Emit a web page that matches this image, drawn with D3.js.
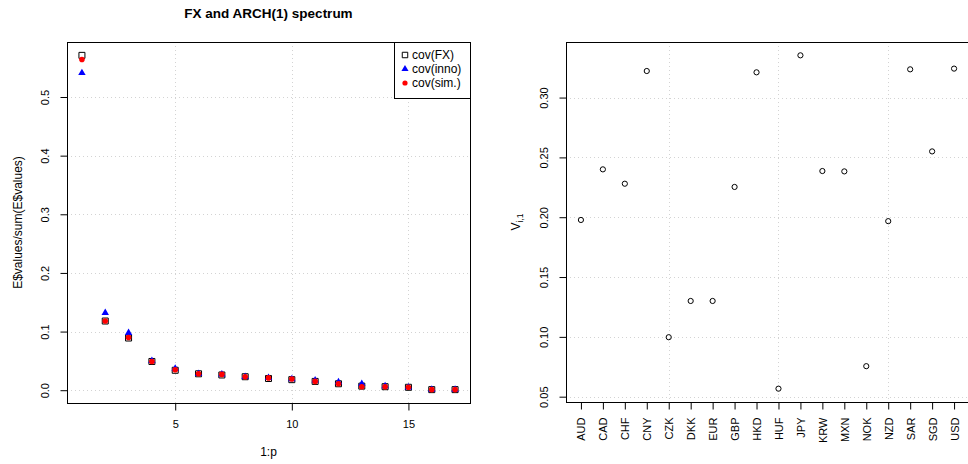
<!DOCTYPE html>
<html>
<head>
<meta charset="utf-8">
<script src="https://cdn.jsdelivr.net/npm/d3@7/dist/d3.min.js"></script>
<style>
  html, body { margin: 0; padding: 0; background: #fff; }
  svg { display: block; font-family: "Liberation Sans", Arial, Helvetica, sans-serif; }
</style>
</head>
<body>
<svg id="chart" width="968" height="464"></svg>
<script>
// Left panel: share of each eigenvalue in the total spectrum
const factorIndex = [1, 2, 3, 4, 5, 6, 7, 8, 9, 10, 11, 12, 13, 14, 15, 16, 17];
const covFX   = [0.571, 0.118, 0.089, 0.049, 0.034, 0.028, 0.026, 0.023, 0.020, 0.018, 0.015, 0.011, 0.007, 0.006, 0.005, 0.001, 0.001];
const covInno = [0.541, 0.132, 0.098, 0.050, 0.037, 0.028, 0.027, 0.023, 0.021, 0.019, 0.017, 0.014, 0.011, 0.007, 0.005, 0.001, 0.001];
const covSim  = [0.564, 0.118, 0.090, 0.049, 0.035, 0.028, 0.027, 0.023, 0.021, 0.019, 0.015, 0.011, 0.006, 0.006, 0.005, 0.001, 0.001];
const leftXTicks = [5, 10, 15];
const leftYTicks = [0.0, 0.1, 0.2, 0.3, 0.4, 0.5];
const legendLabels = ["cov(FX)", "cov(inno)", "cov(sim.)"];

// Right panel: first eigenvector loadings per currency
const currencies = ["AUD", "CAD", "CHF", "CNY", "CZK", "DKK", "EUR", "GBP", "HKD",
                    "HUF", "JPY", "KRW", "MXN", "NOK", "NZD", "SAR", "SGD", "USD"];
const loadings = [0.1977, 0.2400, 0.2280, 0.3222, 0.0997, 0.1300, 0.1300, 0.2253, 0.3211,
                  0.0567, 0.3353, 0.2386, 0.2383, 0.0755, 0.1967, 0.3236, 0.2550, 0.3242];
const rightYTicks = [0.05, 0.10, 0.15, 0.20, 0.25, 0.30];
const rightGridX = [5, 10, 15];

const svg = d3.select("#chart");
const tickFont = 11, labelFont = 12;

// R-style axis range: data extent widened by 4% on each side
function padded(ext) {
  const d = (ext[1] - ext[0]) * 0.04;
  return [ext[0] - d, ext[1] + d];
}

function drawGrid(g, x, y, xs, ys, box) {
  const grid = g.append("g").attr("stroke", "#d3d3d3").attr("stroke-dasharray", "1,3").attr("stroke-width", 1);
  grid.selectAll("line.v").data(xs).join("line").attr("class", "v")
    .attr("x1", d => Math.round(x(d)) + 0.5).attr("x2", d => Math.round(x(d)) + 0.5)
    .attr("y1", box.top).attr("y2", box.bottom);
  grid.selectAll("line.h").data(ys).join("line").attr("class", "h")
    .attr("y1", d => Math.round(y(d)) + 0.5).attr("y2", d => Math.round(y(d)) + 0.5)
    .attr("x1", box.left).attr("x2", box.right);
}

function drawBox(g, box) {
  g.append("rect")
    .attr("x", box.left + 0.5).attr("y", box.top + 0.5)
    .attr("width", box.right - box.left).attr("height", box.bottom - box.top)
    .attr("fill", "none").attr("stroke", "#000").attr("stroke-width", 1);
}

function styleAxis(sel) {
  sel.select(".domain").remove();
  sel.selectAll(".tick line").attr("stroke", "#000");
  sel.selectAll(".tick text").attr("fill", "#000").attr("font-size", tickFont);
}

// ---------- Left panel ----------
const L = { left: 67, right: 470, top: 42, bottom: 403 };
const xL = d3.scaleLinear().domain(padded(d3.extent(factorIndex))).range([L.left, L.right]);
const allL = covFX.concat(covInno, covSim);
const yL = d3.scaleLinear().domain(padded(d3.extent(allL))).range([L.bottom, L.top]);

const gL = svg.append("g");
drawGrid(gL, xL, yL, leftXTicks, leftYTicks, L);

const axBL = gL.append("g").attr("transform", `translate(0,${L.bottom + 0.5})`)
  .call(d3.axisBottom(xL).tickValues(leftXTicks).tickSize(7).tickPadding(10).tickFormat(d3.format("d")));
styleAxis(axBL);

const axLL = gL.append("g").attr("transform", `translate(${L.left + 0.5},0)`)
  .call(d3.axisLeft(yL).tickValues(leftYTicks).tickSize(7).tickFormat(d3.format(".1f")));
styleAxis(axLL);
axLL.selectAll(".tick text")
  .attr("x", null).attr("dy", null).attr("text-anchor", "middle")
  .attr("transform", "translate(-19,0) rotate(-90)");

drawBox(gL, L);

// points: FX squares, innovation triangles, simulated circles on top
const pts = gL.append("g");
pts.selectAll("path.fx").data(factorIndex).join("path").attr("class", "fx")
  .attr("d", d3.symbol(d3.symbolSquare, 36))
  .attr("transform", (d, i) => `translate(${xL(d)},${yL(covFX[i])})`)
  .attr("fill", "none").attr("stroke", "#000").attr("stroke-width", 1);
pts.selectAll("path.inno").data(factorIndex).join("path").attr("class", "inno")
  .attr("d", d3.symbol(d3.symbolTriangle, 24))
  .attr("transform", (d, i) => `translate(${xL(d)},${yL(covInno[i])})`)
  .attr("fill", "#0000ff");
pts.selectAll("circle.sim").data(factorIndex).join("circle").attr("class", "sim")
  .attr("cx", d => xL(d)).attr("cy", (d, i) => yL(covSim[i])).attr("r", 2.8)
  .attr("fill", "#ff0000");

// axis titles and main title
gL.append("text").attr("x", (L.left + L.right) / 2).attr("y", 456)
  .attr("text-anchor", "middle").attr("font-size", labelFont).text("1:p");
gL.append("text").attr("text-anchor", "middle").attr("font-size", labelFont)
  .attr("transform", `translate(22,${(L.top + L.bottom) / 2}) rotate(-90)`)
  .text("E$values/sum(E$values)");
gL.append("text").attr("x", (L.left + L.right) / 2).attr("y", 18)
  .attr("text-anchor", "middle").attr("font-size", 13.5).attr("font-weight", "bold")
  .text("FX and ARCH(1) spectrum");

// legend in top-right corner
const lg = gL.append("g");
const lgBox = { left: 394, top: 42, width: 76, height: 56 };
lg.append("rect").attr("x", lgBox.left + 0.5).attr("y", lgBox.top + 0.5)
  .attr("width", lgBox.width).attr("height", lgBox.height)
  .attr("fill", "#fff").attr("stroke", "#000");
const lgY = d3.scalePoint().domain(legendLabels).range([55, 83]);
lg.append("path").attr("d", d3.symbol(d3.symbolSquare, 30))
  .attr("transform", `translate(405,${lgY(legendLabels[0])})`)
  .attr("fill", "none").attr("stroke", "#000");
lg.append("path").attr("d", d3.symbol(d3.symbolTriangle, 22))
  .attr("transform", `translate(405,${lgY(legendLabels[1])})`).attr("fill", "#0000ff");
lg.append("circle").attr("cx", 405).attr("cy", lgY(legendLabels[2])).attr("r", 2.6).attr("fill", "#ff0000");
lg.selectAll("text").data(legendLabels).join("text")
  .attr("x", 412).attr("y", d => lgY(d)).attr("dy", "0.35em")
  .attr("font-size", 12).text(d => d);

// ---------- Right panel ----------
const R = { left: 566, right: 969, top: 42, bottom: 402 };
const idx = currencies.map((c, i) => i + 1);
const xR = d3.scaleLinear().domain(padded([1, currencies.length])).range([R.left, R.right]);
const yR = d3.scaleLinear().domain(padded(d3.extent(loadings))).range([R.bottom, R.top]);

const gR = svg.append("g");
drawGrid(gR, xR, yR, rightGridX, rightYTicks, R);

const axBR = gR.append("g").attr("transform", `translate(0,${R.bottom + 0.5})`)
  .call(d3.axisBottom(xR).tickValues(idx).tickSize(7).tickFormat(d => currencies[d - 1]));
styleAxis(axBR);
axBR.selectAll(".tick text")
  .attr("y", null).attr("dy", null).attr("text-anchor", "end")
  .attr("transform", "translate(4,15) rotate(-90)");

const axLR = gR.append("g").attr("transform", `translate(${R.left + 0.5},0)`)
  .call(d3.axisLeft(yR).tickValues(rightYTicks).tickSize(7).tickFormat(d3.format(".2f")));
styleAxis(axLR);
axLR.selectAll(".tick text")
  .attr("x", null).attr("dy", null).attr("text-anchor", "middle")
  .attr("transform", "translate(-19,0) rotate(-90)");

drawBox(gR, R);

gR.selectAll("circle.ld").data(loadings).join("circle").attr("class", "ld")
  .attr("cx", (d, i) => xR(idx[i])).attr("cy", d => yR(d)).attr("r", 2.6)
  .attr("fill", "none").attr("stroke", "#000").attr("stroke-width", 1);

// y title: V with subscript i,1
const vt = gR.append("text").attr("text-anchor", "middle").attr("font-size", labelFont)
  .attr("transform", `translate(520,${(R.top + R.bottom) / 2}) rotate(-90)`);
vt.append("tspan").text("V");
vt.append("tspan").attr("font-size", 8.5).attr("dy", 3).text("i,1");
</script>
</body>
</html>
